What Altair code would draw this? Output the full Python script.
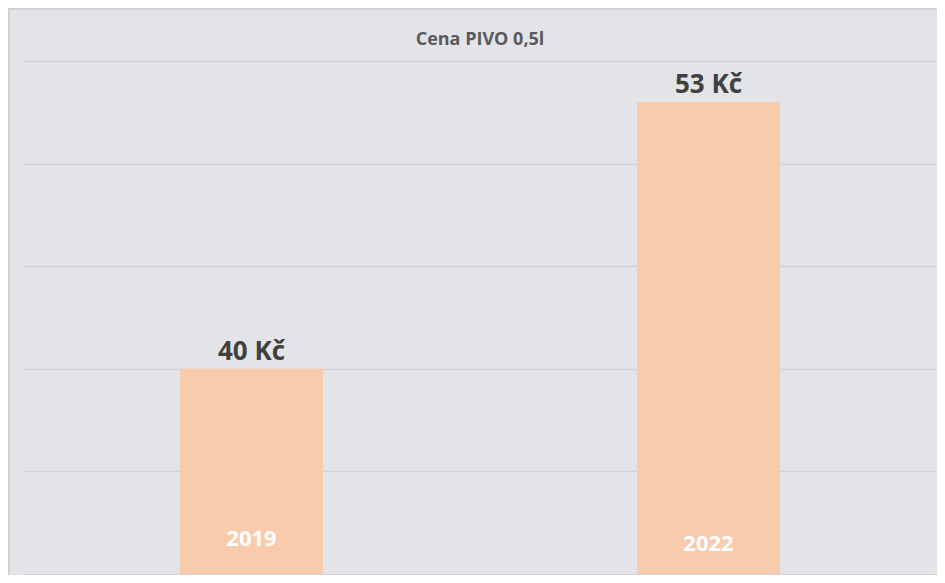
import altair as alt
import pandas as pd

years = ["2019", "2022"]
prices = [40, 53]
labels = ["40 Kč", "53 Kč"]
title_text = "Cena PIVO 0,5l"

df = pd.DataFrame({"year": years, "price": prices, "label": labels})

BG = "#E3E4E8"
GRID = "#D2D3D7"
FONT = "Open Sans"
W, H = 914, 513

x = alt.X("year:N", axis=None, sort=years,
          scale=alt.Scale(paddingInner=0, paddingOuter=0))
y = alt.Y("price:Q", axis=alt.Axis(labels=False, ticks=False, domain=False, title=None,
                                   values=[30, 35, 40, 45, 50, 55],
                                   grid=True, gridColor=GRID, gridWidth=1.5),
          scale=alt.Scale(domain=[30, 55], nice=False, zero=False))

base = alt.Chart(df)

bars = base.mark_bar(color="#F8CBAD", size=143, clip=True).encode(
    x=x, y=y, y2=alt.datum(30))

vals = base.mark_text(font=FONT, fontSize=26, fontWeight="bold", color="#404040",
                      baseline="bottom", dy=-4).encode(x=x, y=y, text="label:N")

yr2019 = base.transform_filter(alt.datum.year == "2019").mark_text(
    font=FONT, fontSize=22, fontWeight="bold", color="#FFFFFF", baseline="middle"
).encode(x=x, y=alt.value(H - 35), text="year:N")

yr2022 = base.transform_filter(alt.datum.year == "2022").mark_text(
    font=FONT, fontSize=22, fontWeight="bold", color="#FFFFFF", baseline="middle"
).encode(x=x, y=alt.value(H - 30), text="year:N")

title = alt.Chart(pd.DataFrame({"t": [title_text]})).mark_text(
    font=FONT, fontSize=18, fontWeight="bold", color="#5A5A5A", baseline="middle"
).encode(x=alt.value(W / 2), y=alt.value(-21), text="t:N")

top_border = base.mark_rule(color="#D0D1D5", strokeWidth=2).encode(
    x=alt.value(-15), x2=alt.value(W), y=alt.value(-52))
left_border = base.mark_rule(color="#D0D1D5", strokeWidth=2).encode(
    x=alt.value(-14), y=alt.value(-52), y2=alt.value(H + 1))

chart = alt.layer(bars, vals, yr2019, yr2022, title, top_border, left_border).properties(
    width=W, height=H,
    background=BG,
    padding={"left": 15, "top": 53, "right": 0, "bottom": 1},
    autosize=alt.AutoSizeParams(type="none"),
).configure_view(stroke=None)

chart.save("out.html", embed_options={"renderer": "svg", "actions": False})
